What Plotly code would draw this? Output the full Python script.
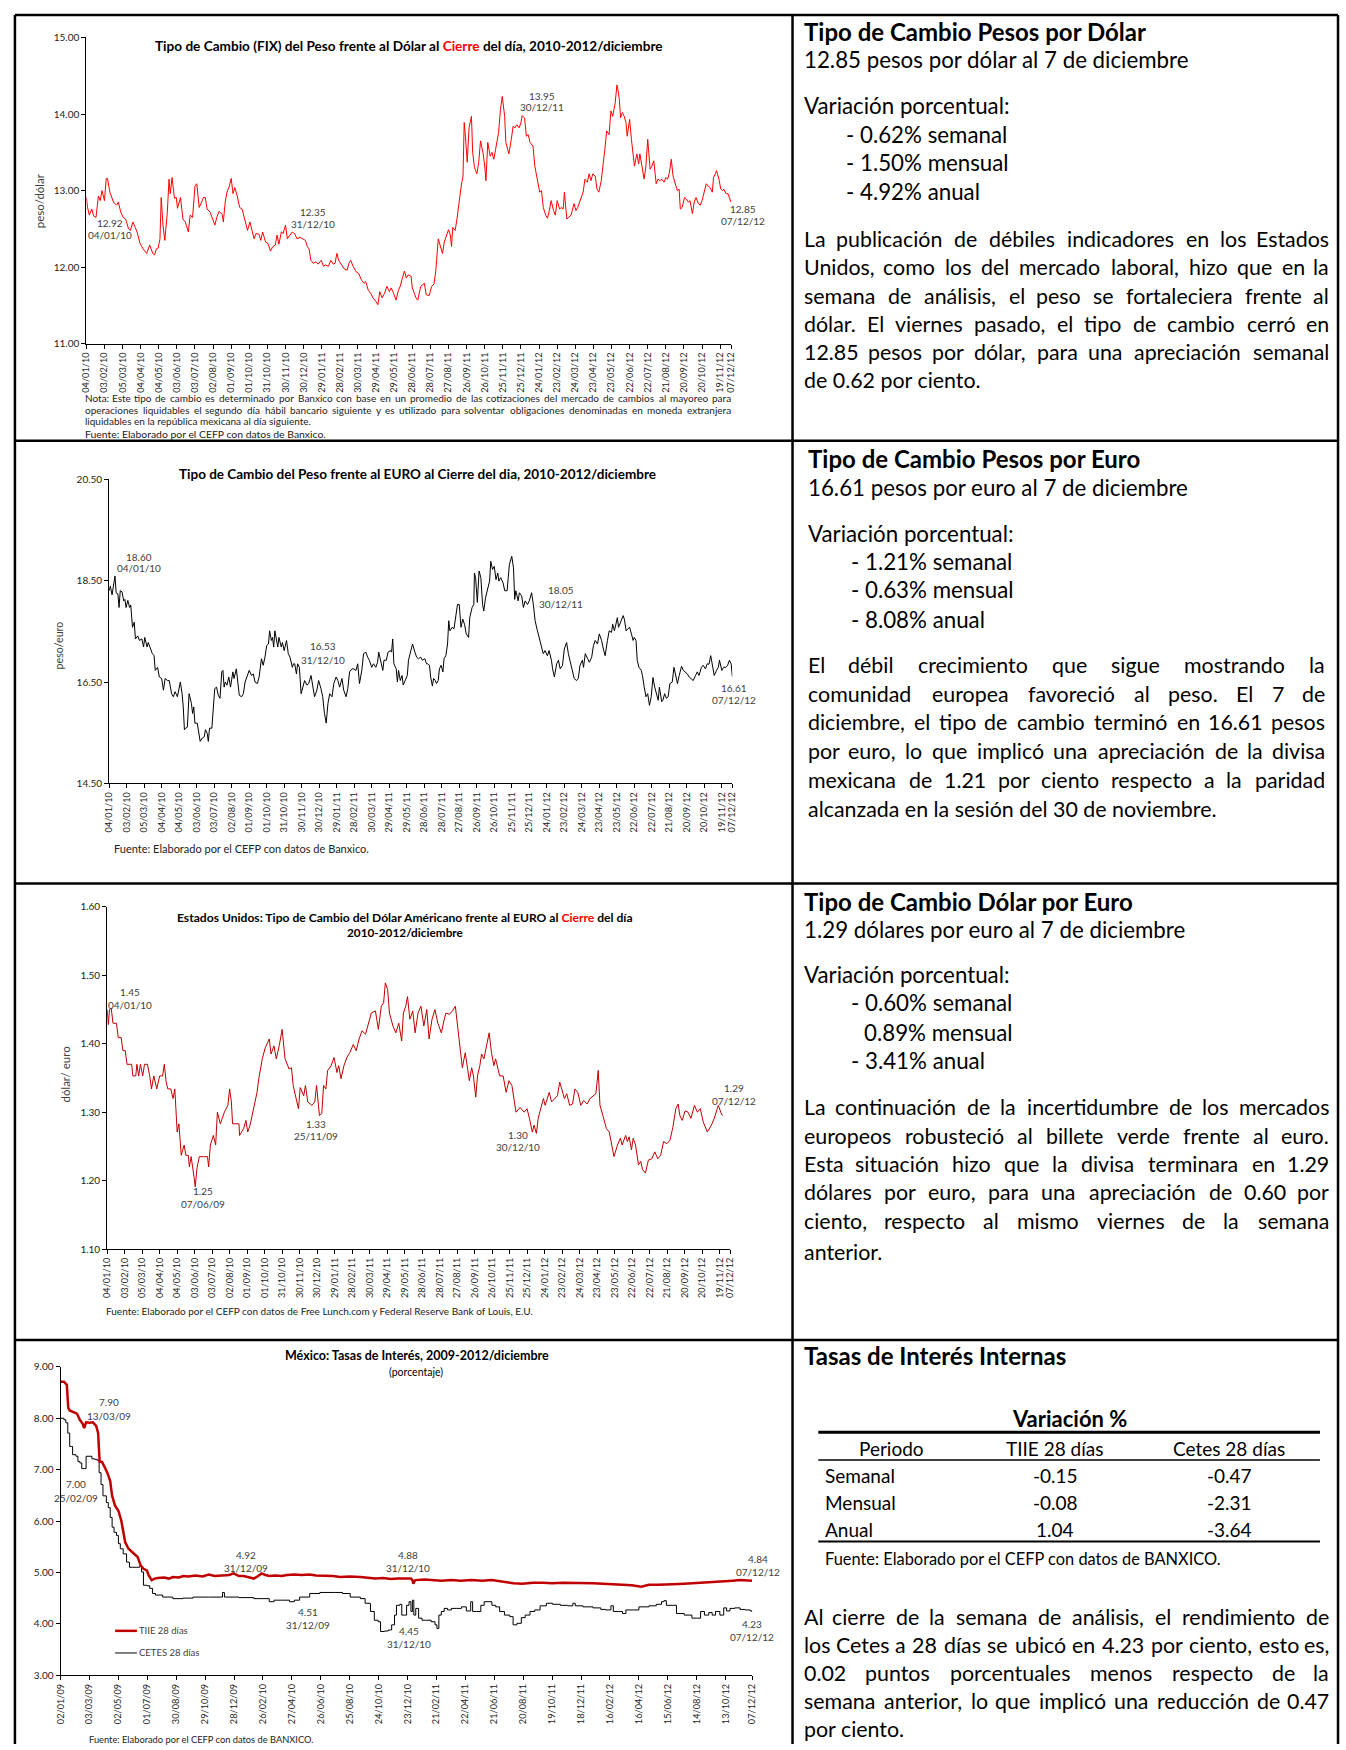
import plotly.graph_objects as go
import pandas as pd

W, H = 1346, 1750
FONT = "Lato"

# ---------------- data ----------------
tick_labels_10_12 = ["04/01/10","03/02/10","05/03/10","04/04/10","04/05/10","03/06/10","03/07/10","02/08/10",
    "01/09/10","01/10/10","31/10/10","30/11/10","30/12/10","29/01/11","28/02/11","30/03/11","29/04/11",
    "29/05/11","28/06/11","28/07/11","27/08/11","26/09/11","26/10/11","25/11/11","25/12/11","24/01/12",
    "23/02/12","24/03/12","23/04/12","23/05/12","22/06/12","22/07/12","21/08/12","20/09/12","20/10/12",
    "19/11/12","07/12/12"]
tick_labels_09_12 = ["02/01/09","03/03/09","02/05/09","01/07/09","30/08/09","29/10/09","28/12/09","26/02/10",
    "27/04/10","26/06/10","25/08/10","24/10/10","23/12/10","21/02/11","22/04/11","21/06/11","20/08/11",
    "19/10/11","18/12/11","16/02/12","16/04/12","15/06/12","14/08/12","13/10/12","07/12/12"]

# (days since 04/01/2010, pesos per dollar)
usd_pts = [(0,12.91),(2,12.78),(5,12.68),(9,12.76),(12,12.67),(16,12.65),(20,12.93),(23,12.87),(26,13.00),(30,12.87),(33,13.16),(35,13.16),(39,12.98),(45,12.85),(50,12.81),(53,12.85),(57,12.72),(61,12.65),(65,12.63),(70,12.50),(73,12.48),(77,12.59),(81,12.52),(84,12.46),(89,12.31),(94,12.24),(100,12.18),(105,12.29),(110,12.18),(113,12.16),(116,12.24),(119,12.25),(122,12.37),(124,12.91),(127,12.55),(130,12.35),(134,12.70),(137,13.15),(139,12.96),(142,13.17),(146,12.90),(149,12.91),(151,12.77),(156,12.91),(160,12.63),(164,12.59),(169,12.46),(172,12.68),(176,12.65),(180,13.06),(183,13.09),(187,12.78),(191,12.85),(194,12.91),(197,12.91),(200,12.76),(205,12.72),(209,12.63),(213,12.55),(216,12.65),(220,12.73),(225,12.69),(227,12.59),(230,12.85),(233,12.98),(237,13.06),(240,13.16),(243,12.96),(246,13.04),(250,12.93),(254,12.78),(258,12.76),(264,12.55),(267,12.48),(271,12.59),(274,12.48),(278,12.37),(281,12.44),(286,12.43),(289,12.35),(292,12.46),(297,12.33),(301,12.31),(305,12.21),(309,12.27),(313,12.29),(316,12.42),(319,12.30),(323,12.46),(326,12.44),(330,12.55),(333,12.37),(337,12.42),(341,12.46),(345,12.44),(349,12.37),(354,12.39),(358,12.37),(363,12.35),(366,12.27),(369,12.24),(372,12.09),(376,12.05),(380,12.07),(384,12.04),(389,12.09),(393,12.01),(396,12.03),(401,12.01),(405,12.09),(409,12.04),(412,12.05),(415,12.18),(418,12.09),(423,12.03),(427,11.98),(432,11.96),(435,12.05),(438,12.09),(442,12.01),(447,11.94),(451,11.92),(456,11.83),(460,11.79),(463,11.81),(467,11.70),(471,11.66),(475,11.60),(480,11.55),(483,11.51),(486,11.68),(490,11.60),(494,11.66),(498,11.75),(502,11.68),(505,11.73),(509,11.66),(513,11.57),(517,11.70),(520,11.75),(524,11.87),(527,11.95),(530,11.86),(533,11.90),(538,11.88),
    (540,11.73),(546,11.60),(549,11.57),(554,11.75),(560,11.79),(563,11.64),(568,11.63),(572,11.75),(576,11.78),(579,11.96),(583,12.37),(586,12.29),(590,12.18),(593,12.33),(596,12.40),(600,12.49),(603,12.42),(605,12.27),(607,12.52),(611,12.48),(614,12.63),(618,12.89),(621,13.06),(624,13.19),(626,13.89),(628,13.71),(631,13.37),(634,13.82),(638,13.97),(640,13.50),(643,13.30),(647,13.22),(650,13.37),(653,13.65),(657,13.50),(660,13.32),(662,13.13),(665,13.63),(669,13.45),(672,13.50),(675,13.41),(678,13.54),(683,13.76),(686,14.06),(689,14.23),(693,13.97),(695,13.63),(698,13.54),(700,13.48),(704,13.67),(707,13.84),(710,13.82),(713,13.86),(717,13.82),(720,13.89),(722,13.98),(726,13.95),(729,13.71),(732,13.73),(735,13.63),(740,13.58),(743,13.32),(747,13.17),(751,12.98),(754,13.00),(757,12.78),(761,12.68),(764,12.64),(767,12.74),(770,12.87),(774,12.74),(777,12.68),(780,12.87),(784,12.76),(787,12.78),(790,12.76),(792,12.98),(796,12.63),(799,12.65),(803,12.68),(808,12.83),(811,12.74),(814,12.78),(819,12.89),(823,12.98),(826,13.15),(830,13.11),(833,13.22),(836,13.13),(839,13.22),(843,13.19),(846,13.02),(849,12.98),(853,13.13),(856,13.32),(859,13.54),(862,13.78),(866,13.73),(869,14.04),(872,13.97),(876,14.14),(879,14.38),(881,14.30),(883,14.19),(885,13.95),(888,14.02),(891,13.97),(894,13.89),(896,13.71),(900,13.93),(903,13.67),(906,13.41),(908,13.32),(912,13.48),(915,13.35),(917,13.48),(920,13.32),(924,13.15),(927,13.32),(930,13.67),(934,13.28),(937,13.32),(940,13.39),(944,13.09),(947,13.15),(950,13.13),(953,13.15),(957,13.11),(960,13.17),(963,13.15),(966,13.24),(969,13.41),(972,13.19),(975,13.11),(979,13.00),(982,13.02),(984,12.76),(987,12.78),(991,12.91),(994,12.89),(997,12.85),(1000,12.87),(1004,12.70),(1007,12.85),(1010,12.91),(1014,12.83),(1017,12.81),(1020,12.87),(1023,12.96),(1027,13.09),(1030,13.06),(1033,13.04),(1037,12.98),(1039,13.17),(1042,13.22),(1044,13.26),(1048,13.15),(1051,13.02),(1054,13.00),(1056,13.02),(1060,12.96),(1063,12.96),(1068,12.85)]

# (days since 04/01/2010, pesos per euro)
eur_pts = [(0,18.30),(2,18.39),(5,18.22),(8,18.43),(10,18.59),(12,18.26),(15,18.24),(17,17.97),(19,18.30),(22,18.28),(25,18.10),(27,18.13),(29,17.97),(32,18.11),(35,17.97),(37,18.02),(40,17.58),(43,17.68),(45,17.35),(49,17.41),(52,17.32),(56,17.35),(59,17.19),(61,17.38),(65,17.19),(67,17.28),(70,17.19),(74,17.06),(77,17.02),(79,16.73),(83,16.79),(86,16.60),(90,16.57),(93,16.34),(96,16.57),(100,16.53),(103,16.53),(107,16.27),(110,16.21),(113,16.31),(117,16.21),(120,16.40),(122,16.50),(125,16.27),(127,16.01),(129,15.56),(131,15.59),(134,15.61),(136,15.95),(137,16.27),(141,16.08),(143,15.88),(145,16.01),(147,15.69),(151,15.69),(153,15.56),(156,15.33),(160,15.40),(163,15.42),(165,15.56),(168,15.49),(170,15.33),(172,15.59),(176,15.59),(178,16.01),(181,16.37),(184,16.40),(187,16.24),(190,16.18),(193,16.70),(195,16.73),(197,16.40),(199,16.50),(202,16.44),(205,16.60),(208,16.40),(212,16.70),(214,16.57),(218,16.76),(220,16.53),(223,16.24),(227,16.21),(230,16.27),(233,16.50),(237,16.63),(240,16.73),(244,16.63),(247,16.66),(250,16.50),(254,16.47),(257,16.60),(261,16.96),(264,16.83),(267,16.99),(270,17.22),(273,17.25),(275,17.51),(278,17.32),(280,17.38),(282,17.19),(284,17.51),(287,17.32),(289,17.19),(291,17.38),(295,17.19),(297,17.28),(300,17.12),(304,17.32),(307,17.06),(310,16.99),(314,16.79),(316,16.86),(318,16.86),(321,16.66),(323,16.86),(326,16.79),(329,16.27),(332,16.40),(335,16.53),(339,16.44),(342,16.47),(346,16.63),(349,16.40),(352,16.21),(356,16.34),(359,16.53),(363,16.37),(366,16.21),(369,15.88),(372,15.69),(375,16.08),(378,16.27),(382,16.21),(385,16.47),(389,16.60),(392,16.53),(395,16.40),(399,16.57),(402,16.34),(406,16.21),(409,16.37),(412,16.70),(416,16.76),(419,16.76),(423,16.73),(426,16.86),(429,16.47),(433,16.73),(436,17.06),(440,17.09),(443,16.99),(446,16.93),(450,16.79),(453,16.86),(457,16.79),(460,16.89),(462,17.09),(466,16.86),(469,16.73),(471,16.93),(475,16.93),(478,17.09),(482,17.12),(484,17.09),(486,17.35),(488,16.86),(492,16.76),(494,16.50),(496,16.73),(499,16.53),(502,16.63),(504,16.44),(508,16.53),(511,16.63),(513,16.93),(517,17.09),(520,17.25),(524,17.09),(527,16.99),(530,16.96),(534,16.99),(537,16.93),(541,16.96),(544,16.86),
    (546,16.86),(549,16.83),(551,16.60),(554,16.42),(556,16.57),(559,16.53),(561,16.47),(564,16.53),(566,16.76),(569,16.83),(572,16.70),(574,16.96),(577,17.02),(580,17.25),(582,17.71),(584,17.51),(588,17.58),(591,17.55),(593,17.71),(597,18.03),(600,18.03),(603,17.58),(606,17.74),(609,17.64),(612,17.45),(616,17.38),(618,17.77),(622,17.97),(625,18.03),(626,18.65),(628,18.56),(631,18.07),(634,18.69),(637,18.56),(640,18.03),(642,17.90),(645,18.16),(649,18.33),(652,18.49),(654,18.88),(657,18.72),(660,18.78),(663,18.52),(666,18.65),(668,18.49),(671,18.56),(675,18.46),(678,18.30),(682,18.30),(684,18.56),(686,18.82),(690,18.98),(693,18.75),(695,18.13),(697,18.30),(701,18.10),(703,18.26),(707,18.20),(710,17.97),(713,18.10),(717,18.03),(720,18.10),(724,18.26),(727,18.03),(730,17.71),(734,17.51),(737,17.38),(741,17.19),(744,17.06),(747,17.12),(751,17.02),(754,17.12),(758,16.93),(760,16.76),(763,16.60),(767,16.86),(770,16.93),(773,16.76),(777,16.83),(780,17.15),(784,17.28),(787,17.06),(790,16.93),(794,16.73),(797,16.57),(801,16.53),(804,16.57),(807,16.83),(811,16.93),(813,16.79),(816,17.06),(820,16.96),(823,16.89),(827,16.99),(830,17.22),(833,17.32),(837,17.25),(840,17.45),(844,17.32),(847,17.15),(850,17.02),(854,17.32),(857,17.51),(861,17.48),(863,17.64),(866,17.51),(869,17.71),(871,17.77),(873,17.58),(876,17.68),(879,17.77),(881,17.81),(883,17.74),(886,17.51),(889,17.55),(892,17.58),(896,17.41),(898,17.32),(900,17.38),(903,17.32),(905,16.93),(908,16.79),(912,16.73),(914,16.63),(917,16.40),(920,16.21),(923,16.27),(926,16.04),(929,16.21),(932,16.59),(935,16.40),(938,16.24),(941,16.14),(943,16.40),(947,16.11),(949,16.14),(952,16.27),(955,16.18),(958,16.21),(961,16.47),(965,16.50),(968,16.79),(971,16.63),(974,16.47),(977,16.63),(981,16.81),(984,16.73),(988,16.70),(991,16.66),(994,16.60),(998,16.57),(1001,16.53),(1005,16.63),(1008,16.70),(1011,16.63),(1015,16.79),(1018,16.83),(1022,16.76),(1025,16.86),(1028,16.85),(1031,17.02),(1034,16.79),(1037,16.63),(1041,16.73),(1044,16.79),(1046,16.93),(1050,16.73),(1053,16.79),(1057,16.79),(1060,16.83),(1063,16.93),(1066,16.86),(1068,16.61)]

# (days since 04/01/2010, dollars per euro)
eurusd_pts = [(0,1.450),(2,1.428),(4,1.450),(7,1.452),(10,1.430),(16,1.430),(19,1.409),(24,1.409),(27,1.390),(31,1.390),(34,1.370),(42,1.370),(44,1.353),(49,1.353),(51,1.370),(54,1.353),(57,1.370),(61,1.353),(64,1.370),(69,1.370),(73,1.353),(76,1.334),(80,1.353),(85,1.334),(90,1.353),(95,1.353),(98,1.370),(101,1.345),(104,1.334),(109,1.334),(113,1.320),(116,1.334),(120,1.271),(123,1.283),(127,1.237),(132,1.252),(135,1.237),(139,1.237),(141,1.220),(144,1.235),(149,1.205),(151,1.191),(154,1.218),(158,1.235),(165,1.235),(172,1.235),(174,1.220),(177,1.252),(182,1.266),(186,1.252),(189,1.300),(194,1.283),(201,1.300),(207,1.310),(210,1.334),(213,1.315),(215,1.283),(226,1.283),(227,1.266),(234,1.276),(238,1.288),(241,1.271),(245,1.281),(252,1.307),(257,1.329),(260,1.349),(266,1.378),(271,1.394),(278,1.407),(281,1.385),(286,1.397),(290,1.378),(295,1.397),(300,1.421),(305,1.378),(312,1.363),(316,1.365),(319,1.339),(325,1.315),(328,1.305),(331,1.336),(337,1.324),(340,1.339),(344,1.315),(351,1.310),(356,1.315),(359,1.339),(364,1.295),(368,1.298),(371,1.339),(375,1.334),(378,1.361),(384,1.368),(389,1.380),(394,1.358),(397,1.368),(401,1.349),(406,1.368),(411,1.380),(416,1.387),(422,1.399),(427,1.390),(432,1.407),(437,1.419),(443,1.414),(448,1.430),(453,1.445),(460,1.448),(465,1.421),(470,1.455),(474,1.460),(477,1.489),(481,1.479),(484,1.445),(490,1.426),(495,1.416),(500,1.430),(505,1.404),(508,1.445),(512,1.455),(515,1.469),(519,1.436),(524,1.448),(528,1.416),(533,1.445),(538,1.455),(543,1.426),(548,1.450),(552,1.407),(557,1.436),(562,1.450),(567,1.430),(573,1.416),(578,1.436),(581,1.445),(587,1.443),(592,1.448),(597,1.455),(602,1.421),(606,1.387),(609,1.365),(614,1.387),(618,1.363),(621,1.346),(625,1.365),(628,1.353),(632,1.322),(635,1.353),(639,1.368),(642,1.385),(646,1.378),(651,1.397),(655,1.416),(659,1.387),(663,1.368),(666,1.378),(673,1.353),(679,1.353),(684,1.329),(689,1.346),(694,1.339),(701,1.300),(708,1.307),(715,1.300),(720,1.305),(724,1.291),(729,1.271),(732,1.281),(736,1.269),(739,1.291),(743,1.305),(748,1.320),(751,1.310),(755,1.320),(758,1.329),(762,1.315),(767,1.320),(772,1.324),(776,1.344),(779,1.334),(784,1.320),(788,1.327),(793,1.310),(798,1.312),(802,1.334),(807,1.329),(812,1.310),(817,1.317),(823,1.312),(828,1.320),(833,1.324),(838,1.327),(842,1.361),(845,1.310),(850,1.295),(856,1.276),(861,1.271),(864,1.257),(869,1.235),(875,1.252),(880,1.262),(883,1.252),(889,1.266),(892,1.257),(895,1.264),(899,1.245),(902,1.262),(906,1.252),(911,1.223),(915,1.228),(918,1.216),(923,1.211),(928,1.230),(934,1.232),(939,1.242),(944,1.232),(949,1.237),(954,1.257),(960,1.254),(965,1.259),(970,1.278),(975,1.305),(979,1.312),(982,1.295),(986,1.288),(991,1.302),(996,1.300),(1001,1.291),(1007,1.310),(1012,1.300),(1017,1.305),(1022,1.286),(1029,1.271),(1036,1.281),(1041,1.291),(1046,1.305),(1048,1.310),(1052,1.300),(1055,1.295)]

# (days since 02/01/2009, percent)
tiie_pts = [(0,8.71),(7,8.71),(13,8.65),(16,8.20),(19,8.15),(28,8.11),(34,8.09),(40,7.97),(46,7.89),(49,7.81),(53,7.92),(60,7.91),(67,7.92),(74,7.85),(78,7.71),(81,7.16),(86,7.15),(92,7.04),(97,6.94),(103,6.78),(107,6.49),(113,6.30),(120,6.20),(126,6.01),(130,5.78),(134,5.59),(141,5.46),(147,5.41),(153,5.36),(160,5.30),(166,5.14),(172,5.07),(179,5.04),(183,4.94),(189,4.85),(195,4.88),(202,4.89),(215,4.90),(225,4.88),(233,4.91),(245,4.90),(255,4.93),(265,4.92),(280,4.94),(295,4.92),(307,4.96),(320,4.93),(338,4.94),(350,4.95),(359,4.98),(370,4.93),(380,4.93),(392,4.90),(401,4.88),(410,4.93),(417,4.98),(425,4.95),(433,4.93),(445,4.94),(459,4.93),(470,4.95),(485,4.96),(500,4.95),(517,4.96),(530,4.94),(548,4.94),(565,4.93),(580,4.91),(600,4.92),(622,4.91),(640,4.90),(653,4.88),(670,4.89),(685,4.87),(700,4.88),(716,4.88),(727,4.88),(730,4.85),(732,4.78),(735,4.84),(737,4.85),(755,4.86),(769,4.85),(790,4.84),(811,4.85),(830,4.84),(853,4.85),(875,4.84),(895,4.85),(910,4.83),(926,4.80),(940,4.79),(958,4.78),(980,4.80),(1000,4.80),(1020,4.79),(1042,4.80),(1060,4.80),(1084,4.80),(1105,4.79),(1126,4.78),(1150,4.77),(1168,4.76),(1185,4.75),(1205,4.72),(1212,4.74),(1221,4.76),(1240,4.76),(1252,4.76),(1270,4.77),(1294,4.78),(1315,4.79),(1336,4.80),(1355,4.81),(1378,4.83),(1395,4.84),(1410,4.85),(1425,4.85),(1435,4.84)]

cetes_pts = [(0,8.00),(7,7.97),(11,7.91),(15,7.71),(19,7.45),(23,7.45),(25,7.29),(32,7.26),(36,7.16),(40,7.13),(44,7.02),(50,7.02),(53,7.26),(59,7.26),(65,7.21),(71,7.20),(76,7.18),(80,6.94),(84,6.71),(88,6.49),(95,6.36),(99,6.26),(103,6.07),(107,5.88),(111,5.78),(116,5.72),(120,5.56),(124,5.46),(130,5.36),(137,5.20),(143,5.10),(149,5.10),(158,5.10),(164,5.12),(168,5.01),(172,4.75),(179,4.74),(185,4.69),(191,4.59),(197,4.56),(212,4.52),(233,4.49),(254,4.50),(275,4.52),(307,4.52),(333,4.52),(336,4.61),(340,4.52),(370,4.51),(401,4.49),(422,4.49),(433,4.43),(443,4.46),(459,4.46),(475,4.43),(485,4.46),(496,4.52),(517,4.59),(538,4.61),(569,4.61),(585,4.59),(601,4.52),(622,4.49),(632,4.40),(643,4.24),(651,4.07),(659,4.04),(664,3.85),(672,3.86),(680,3.88),(687,3.98),(693,4.17),(697,4.36),(704,4.38),(708,4.17),(714,4.17),(718,4.36),(723,4.43),(727,4.24),(730,4.46),(733,4.17),(737,4.30),(743,4.11),(750,4.07),(758,4.07),(769,4.04),(777,3.98),(781,3.91),(785,4.17),(790,4.24),(796,4.30),(803,4.27),(811,4.30),(821,4.30),(832,4.33),(842,4.25),(851,4.43),(855,4.24),(863,4.24),(872,4.36),(879,4.43),(887,4.43),(895,4.36),(903,4.33),(911,4.24),(921,4.17),(932,4.14),(939,3.98),(947,4.01),(956,4.12),(964,4.17),(974,4.24),(984,4.27),(995,4.35),(1008,4.40),(1021,4.38),(1037,4.36),(1052,4.35),(1063,4.40),(1068,4.35),(1084,4.33),(1105,4.31),(1121,4.28),(1131,4.27),(1142,4.35),(1147,4.24),(1158,4.24),(1166,4.20),(1173,4.27),(1189,4.27),(1200,4.33),(1221,4.35),(1236,4.38),(1247,4.43),(1252,4.45),(1257,4.36),(1271,4.36),(1278,4.20),(1294,4.17),(1310,4.11),(1320,4.11),(1328,4.24),(1336,4.17),(1345,4.22),(1352,4.17),(1359,4.24),(1368,4.17),(1376,4.31),(1382,4.25),(1389,4.30),(1399,4.31),(1410,4.28),(1420,4.27),(1431,4.25),(1435,4.23)]

periodos = ["Semanal", "Mensual", "Anual"]
tiie_var = [-0.15, -0.08, 1.04]
cetes_var = [-0.47, -2.31, -3.64]

# ---------------- helpers ----------------
def X(p): return p / W
def Y(p): return 1 - p / H

def to_dates(base, pts):
    b = pd.Timestamp(base)
    xs = [(b + pd.Timedelta(days=d)).strftime("%Y-%m-%d") for d, _ in pts]
    ys = [v for _, v in pts]
    return xs, ys

def lbl_dates(labels):
    return [pd.to_datetime(l, format="%d/%m/%y").strftime("%Y-%m-%d") for l in labels]

annotations = []
shapes = []

def txt(x, y, s, size, anchor="left", color="black", bold=False, angle=0):
    annotations.append(dict(x=X(x), y=Y(y), xref="paper", yref="paper",
        text=("<b>" + s + "</b>") if bold else s, showarrow=False, xanchor=anchor,
        yanchor="middle", font=dict(family=FONT, size=size, color=color), textangle=angle,
        borderpad=0))

WID = {' ':.19,'.':.22,',':.22,':':.24,'%':.76,'-':.34,'/':.39,'(':.3,')':.3,
       'a':.51,'b':.56,'c':.46,'d':.56,'e':.52,'f':.32,'g':.50,'h':.56,'i':.24,'j':.24,'k':.49,'l':.24,
       'm':.84,'n':.56,'o':.56,'p':.56,'q':.56,'r':.36,'s':.42,'t':.34,'u':.56,'v':.49,'w':.74,'x':.48,
       'y':.49,'z':.44,'á':.51,'é':.52,'í':.24,'ó':.56,'ú':.56,'ñ':.56,
       'A':.64,'B':.62,'C':.64,'D':.71,'E':.54,'F':.52,'G':.70,'H':.72,'I':.27,'L':.49,'M':.86,
       'N':.72,'O':.76,'P':.59,'R':.61,'S':.52,'T':.56,'U':.70,'V':.64,'X':.62,'Y':.60}
def tw(s, size):
    return sum(WID.get(c, .58) for c in s) * size * 1.03

def justify(line, x0, x1, y, size, color="black"):
    words = line.split()
    ws = [tw(w, size) for w in words]
    gap = (x1 - x0 - sum(ws)) / (len(words) - 1)
    cx = x0
    for i, (w, wd) in enumerate(zip(words, ws)):
        if i == 0:
            txt(x0, y, w, size, "left", color)
        elif i == len(words) - 1:
            txt(x1, y, w, size, "right", color)
        else:
            txt(cx + wd / 2, y, w, size, "center", color)
        cx += wd + gap

def paragraph(lines, x0, x1, ys, size, color="black"):
    for i, (l, y) in enumerate(zip(lines, ys)):
        if i < len(lines) - 1:
            justify(l, x0, x1, y, size, color)
        else:
            txt(x0, y, l, size, "left", color)

def hline(x0, x1, y, w=1, color="black"):
    shapes.append(dict(type="line", xref="paper", yref="paper", x0=X(x0), x1=X(x1), y0=Y(y), y1=Y(y),
                       line=dict(color=color, width=w)))
def vline(x, y0, y1, w=1, color="black"):
    shapes.append(dict(type="line", xref="paper", yref="paper", x0=X(x), x1=X(x), y0=Y(y0), y1=Y(y1),
                       line=dict(color=color, width=w)))

fig = go.Figure()
layout = {}

def add_chart(idx, base, end_day, labels, dom_x, dom_y, yrange, dtick, series):
    sfx = "" if idx == 1 else str(idx)
    for pts, color, width, shape in series:
        xs, ys = to_dates(base, pts)
        fig.add_trace(go.Scatter(x=xs, y=ys, mode="lines", xaxis="x" + sfx, yaxis="y" + sfx,
                                 line=dict(color=color, width=width, shape=shape), showlegend=False,
                                 hoverinfo="skip"))
    b = pd.Timestamp(base)
    layout["xaxis" + sfx] = dict(domain=[X(dom_x[0]), X(dom_x[1])], anchor="y" + sfx, type="date",
        range=[b.strftime("%Y-%m-%d"), (b + pd.Timedelta(days=end_day)).strftime("%Y-%m-%d")],
        tickmode="array", tickvals=lbl_dates(labels), ticktext=labels, tickangle=-90,
        ticks="outside", ticklen=4, tickcolor="black", showline=True, linecolor="black", linewidth=1,
        showgrid=False, zeroline=False, tickfont=dict(family=FONT, size=9.2, color="#222"))
    layout["yaxis" + sfx] = dict(domain=[Y(dom_y[1]), Y(dom_y[0])], anchor="x" + sfx, range=yrange,
        dtick=dtick, tick0=yrange[0], tickformat=".2f", ticks="outside", ticklen=4, tickcolor="black",
        showline=True, linecolor="black", linewidth=1, showgrid=False, zeroline=False,
        tickfont=dict(family=FONT, size=10, color="#222"))

add_chart(1, "2010-01-04", 1068, tick_labels_10_12, (81, 731), (30.7, 339.3), [11, 15], 1,
          [(usd_pts, "#FF0000", 1, "linear")])
add_chart(2, "2010-01-04", 1068, tick_labels_10_12, (104, 732.3), (475.7, 782.3), [14.5, 20.5], 2,
          [(eur_pts, "#000000", 1, "linear")])
add_chart(3, "2010-01-04", 1068, tick_labels_10_12, (102, 730), (906.7, 1251.3), [1.1, 1.6], 0.1,
          [(eurusd_pts, "#C00000", 1, "linear")])
add_chart(4, "2009-01-02", 1435, tick_labels_09_12, (55, 752.3), (1370, 1680.7), [3, 9], 1,
          [(cetes_pts, "#000000", 1, "hv"), (tiie_pts, "#C00000", 2.5, "linear")])

# ---------------- chart texts ----------------
GR = "#404040"
txt(406.6, 39.3, "Tipo de Cambio (FIX) del Peso frente al Dólar al <span style='color:#FF0000'>Cierre</span> del día, 2010-2012/diciembre", 13.6, "center", bold=True)
txt(34, 195, "peso/dólar", 11.5, "center", GR, angle=-90)
for x, y, s in [(105, 217.7, "12.92"), (105, 229.3, "04/01/10"), (310, 206.7, "12.35"), (310, 219, "31/12/10"),
                (540.7, 89.3, "13.95"), (540.7, 101, "30/12/11"), (743, 204, "12.85"), (743, 216, "07/12/12")]:
    txt(x, y, s, 10, "center", GR)
paragraph(["Nota: Este tipo de cambio es determinado por Banxico con base en un promedio de las cotizaciones del mercado de cambios al mayoreo para",
           "operaciones liquidables el segundo día hábil bancario siguiente y es utilizado para solventar obligaciones denominadas en moneda extranjera",
           "liquidables en la república mexicana al día siguiente."], 79, 732, [394, 406, 416.7], 10, "#222")
txt(79, 430, "Fuente: Elaborado por el CEFP con datos de Banxico.", 10.4, "left", "#222")

txt(415, 470, "Tipo de Cambio del Peso frente al EURO al Cierre del dia, 2010-2012/diciembre", 13.5, "center", bold=True)
txt(53.6, 643, "peso/euro", 10.6, "center", GR, angle=-90)
for x, y, s in [(134.3, 553.7, "18.60"), (134.3, 565.7, "04/01/10"), (320, 643.7, "16.53"), (320, 657.7, "31/12/10"),
                (559.3, 587.7, "18.05"), (559.3, 601, "30/12/11"), (734.3, 685.7, "16.61"), (734.3, 697.7, "07/12/12")]:
    txt(x, y, s, 10, "center", GR)
txt(108, 848, "Fuente: Elaborado por el CEFP con datos de Banxico.", 11, "left", "#222")

txt(402, 917.3, "Estados Unidos: Tipo de Cambio del Dólar Américano frente al EURO al <span style='color:#FF0000'>Cierre</span> del día", 12.1, "center", bold=True)
txt(402, 932.7, "2010-2012/diciembre", 11.8, "center", bold=True)
txt(60, 1075, "dólar/ euro", 11.5, "center", GR, angle=-90)
for x, y, s in [(125.5, 992.7, "1.45"), (125.5, 1005.7, "04/01/10"), (199, 1193.3, "1.25"), (199, 1206, "07/06/09"),
                (312.8, 1125, "1.33"), (312.8, 1137.7, "25/11/09"), (516.3, 1136, "1.30"), (516.3, 1148.7, "30/12/10"),
                (733.7, 1089, "1.29"), (733.7, 1101.7, "07/12/12")]:
    txt(x, y, s, 10, "center", GR)
txt(99.5, 1313.3, "Fuente: Elaborado por el CEFP con datos de Free Lunch.com y Federal Reserve Bank of Louis, E.U.", 10, "left", "#222")

txt(414, 1359, "México: Tasas de Interés, 2009-2012/diciembre", 12.5, "center", bold=True)
txt(413, 1375.7, "(porcentaje)", 10.5, "center")
for x, y, s in [(104, 1405.7, "7.90"), (104, 1419.3, "13/03/09"), (71, 1487.7, "7.00"), (71, 1501.7, "25/02/09"),
                (242.3, 1560, "4.92"), (242.3, 1572.7, "31/12/09"), (405.6, 1560, "4.88"), (405.6, 1572.7, "31/12/10"),
                (758, 1563.3, "4.84"), (758, 1576.7, "07/12/12"), (304, 1616.7, "4.51"), (304, 1630, "31/12/09"),
                (406.6, 1636, "4.45"), (406.6, 1649.3, "31/12/10"), (752, 1629.3, "4.23"), (752, 1642.7, "07/12/12")]:
    txt(x, y, s, 10, "center", GR)
hline(110, 132, 1636, 2.5, "#C00000")
txt(133, 1636, "TIIE 28 días", 9.5, "left", GR)
hline(110, 132, 1658.3, 1, "#000000")
txt(133, 1658.3, "CETES 28 días", 9.5, "left", GR)
txt(83, 1745, "Fuente: Elaborado por el CEFP con datos de BANXICO.", 9.3, "left", "#222")

# ---------------- right panels ----------------
FS = 22.3     # short lines
FP = 21.4     # justified paragraphs
FB = 24       # bold headings
L1, R1 = 803.5, 1335
txt(L1, 25, "Tipo de Cambio Pesos por Dólar", FB, bold=True)
txt(L1, 53.3, "12.85 pesos por dólar al 7 de diciembre", FS)
txt(L1, 99.3, "Variación porcentual:", FS)
txt(846, 128.3, "- 0.62% semanal", FS)
txt(846, 156.7, "- 1.50% mensual", FS)
txt(846, 185.7, "- 4.92% anual", FS)
paragraph(["La publicación de débiles indicadores en los Estados",
           "Unidos, como los del mercado laboral, hizo que en la",
           "semana de análisis, el peso se fortaleciera frente al",
           "dólar. El viernes pasado, el tipo de cambio cerró en",
           "12.85 pesos por dólar, para una apreciación semanal",
           "de 0.62 por ciento."], L1, R1, [233.3, 262.3, 290.7, 319, 347.7, 376], FP)

L2, R2 = 807.7, 1330.8
txt(L2, 455, "Tipo de Cambio Pesos por Euro", FB, bold=True)
txt(L2, 484, "16.61 pesos por euro al 7 de diciembre", FS)
txt(L2, 530, "Variación porcentual:", FS)
txt(851, 558.3, "- 1.21% semanal", FS)
txt(851, 587.3, "- 0.63% mensual", FS)
txt(851, 616.7, "- 8.08% anual", FS)
paragraph(["El débil crecimiento que sigue mostrando la",
           "comunidad europea favoreció al peso. El 7 de",
           "diciembre, el tipo de cambio terminó en 16.61 pesos",
           "por euro, lo que implicó una apreciación de la divisa",
           "mexicana de 1.21 por ciento respecto a la paridad",
           "alcanzada en la sesión del 30 de noviembre."], L2, R2, [663.3, 692.3, 720.7, 750, 779, 807.7], FP)

txt(L1, 900.7, "Tipo de Cambio Dólar por Euro", FB, bold=True)
txt(L1, 929, "1.29 dólares por euro al 7 de diciembre", FS)
txt(L1, 974.3, "Variación porcentual:", FS)
txt(851, 1003.3, "- 0.60% semanal", FS)
txt(863.8, 1032.7, "0.89% mensual", FS)
txt(851, 1061.7, "- 3.41% anual", FS)
paragraph(["La continuación de la incertidumbre de los mercados",
           "europeos robusteció al billete verde frente al euro.",
           "Esta situación hizo que la divisa terminara en 1.29",
           "dólares por euro, para una apreciación de 0.60 por",
           "ciento, respecto al mismo viernes de la semana",
           "anterior."], L1, R1, [1108.3, 1137.3, 1166, 1194.3, 1223.3, 1254], FP)

txt(L1, 1359, "Tasas de Interés Internas", FB, bold=True)
txt(1072, 1421.7, "Variación %", 22, "center", bold=True)
hline(819, 1324.8, 1436, 3)
TF = 19
txt(892.8, 1452.7, "Periodo", TF, "center")
txt(1056.7, 1452.7, "TIIE 28 días", TF, "center")
txt(1233.3, 1452.7, "Cetes 28 días", TF, "center")
hline(819, 1324.8, 1464, 1.5)
for p, a, c, y in zip(periodos, tiie_var, cetes_var, [1479.3, 1506.7, 1534.3]):
    txt(824.4, y, p, TF, "left")
    txt(1057.7, y, f"{a:.2f}", TF, "center")
    txt(1233.3, y, f"{c:.2f}", TF, "center")
hline(819, 1324.8, 1546, 2)
txt(824.4, 1562.7, "Fuente: Elaborado por el CEFP con datos de BANXICO.", 16.4, "left")
paragraph(["Al cierre de la semana de análisis, el rendimiento de",
           "los Cetes a 28 días se ubicó en 4.23 por ciento, esto es,",
           "0.02 puntos porcentuales menos respecto de la",
           "semana anterior, lo que implicó una reducción de 0.47",
           "por ciento."], L1, R1, [1621.7, 1650, 1678.3, 1706.7, 1735], FP)

# ---------------- frame ----------------
FW = 2.5
hline(9, 1343, 8, FW)
for yy in (437, 883, 1343):
    hline(9, 1343, yy, FW)
vline(9, 8, 1750, FW)
vline(1343, 8, 1750, FW)
vline(793, 8, 1750, FW)

fig.update_layout(width=W, height=H, margin=dict(l=0, r=0, t=0, b=0), paper_bgcolor="white",
                  plot_bgcolor="white", annotations=annotations, shapes=shapes, showlegend=False,
                  font=dict(family=FONT), **layout)
fig.write_html("out.html", config={"displayModeBar": False},
               post_script="document.body.style.margin='0';document.body.style.overflow='hidden';"
                           "document.documentElement.style.overflow='hidden';")
